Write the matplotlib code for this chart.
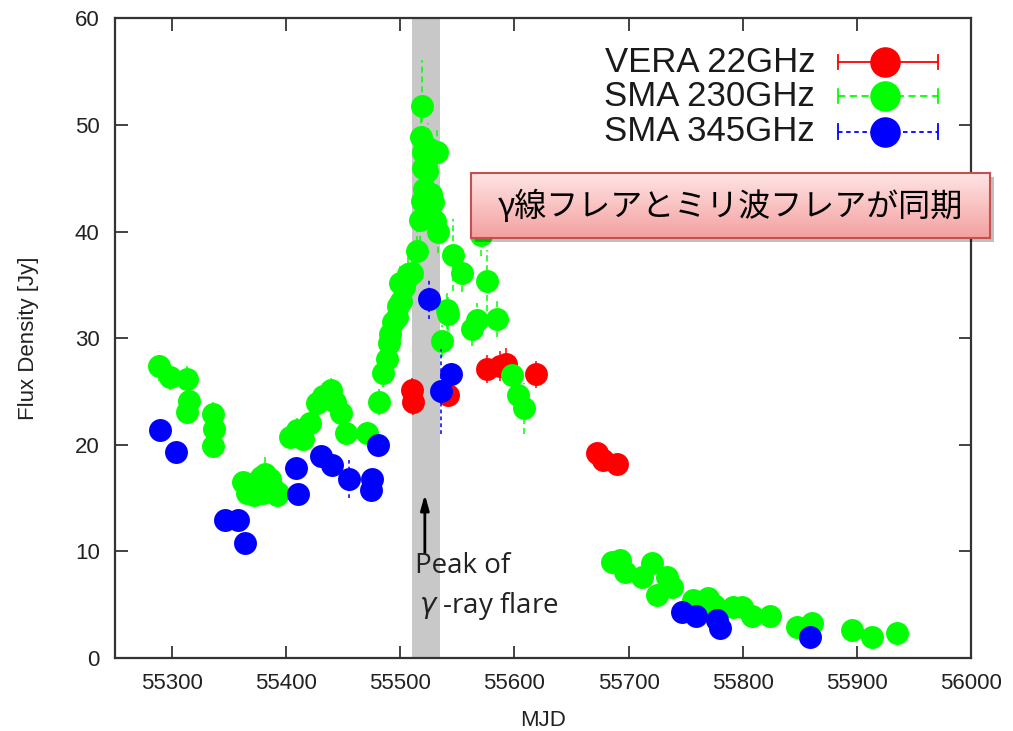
import numpy as np
import matplotlib
matplotlib.use('Agg')
import matplotlib.pyplot as plt
from matplotlib.patches import Rectangle

plt.rcParams['font.family'] = ['Liberation Sans', 'DejaVu Sans']
plt.rcParams['mathtext.fontset'] = 'dejavusans'

# --- data ---
vera_mjd = [55510, 55511.5, 55542, 55576, 55587, 55593, 55618.5, 55672, 55678, 55689.5]
vera_flux = [25.1, 24.0, 24.7, 27.1, 27.4, 27.6, 26.6, 19.2, 18.6, 18.2]
vera_err = [1.2, 1.2, 1.2, 1.3, 1.4, 1.5, 1.3, 0.6, 0.6, 0.6]

sma230_mjd = [55288.8, 55298.2, 55312.8, 55314.8, 55313.5, 55335.6, 55336.7, 55336.1,
              55361.9, 55366, 55368.3, 55372, 55375, 55378, 55379.7, 55381.4, 55383,
              55386, 55388, 55391.7, 55393,
              55403.3, 55409.2, 55415, 55420.9, 55426.7, 55432, 55439, 55443, 55447.8,
              55452.2, 55471.2, 55481.3, 55485.2, 55488, 55490, 55491, 55494, 55496.7,
              55498, 55499.7, 55501, 55503, 55505, 55507, 55510, 55514.8, 55517.2,
              55518.7, 55517.9, 55519.3, 55519.6, 55520, 55521, 55523.1, 55524, 55525,
              55527, 55528.9, 55530, 55531.8, 55533.2, 55536.2, 55540.6, 55542,
              55546.3, 55553.7, 55562.5, 55566.8, 55571, 55575.6, 55584.4, 55597.5,
              55603.3, 55608.3,
              55685.1, 55692.5, 55696.9, 55711.4, 55720.2, 55724.6, 55733.3, 55737.7,
              55756.7, 55762, 55769.9, 55775, 55791.7, 55799, 55807.8, 55823.9,
              55847.2, 55860.3, 55895.4, 55913, 55934.9]
sma230_flux = [27.4, 26.4, 26.2, 24.1, 23.1, 22.9, 21.5, 19.9,
               16.5, 15.5, 16.1, 15.3, 16.6, 17.0, 15.5, 17.3, 15.8,
               16.8, 16.0, 15.3, 15.5,
               20.7, 21.4, 20.5, 22.0, 23.9, 24.6, 25.1, 24.0, 23.0,
               21.1, 21.1, 24.0, 26.7, 28.0, 29.5, 30.4, 31.5, 32.0,
               33.0, 35.2, 33.5, 34.8, 35.5, 36.0, 36.1, 38.2, 41.1,
               42.9, 48.9, 51.8, 47.5, 46.0, 44.0, 45.7, 47.8, 41.5,
               43.5, 42.8, 41.0, 47.5, 40.0, 29.7, 32.6, 32.3,
               37.8, 36.1, 30.9, 31.7, 39.7, 35.4, 31.8, 26.5,
               24.7, 23.4,
               9.0, 9.2, 8.1, 7.6, 8.9, 5.9, 7.6, 6.7,
               5.4, 5.0, 5.6, 5.0, 4.8, 4.8, 3.9, 3.9,
               2.9, 3.3, 2.6, 2.0, 2.3]
sma230_err = [1.4, 1.3, 1.2, 1.2, 1.2, 1.1, 1.1, 1.0,
              0.8, 0.8, 0.8, 0.8, 0.8, 0.8, 0.8, 1.8, 0.8,
              0.8, 0.8, 0.8, 0.8,
              1.0, 1.1, 1.0, 1.1, 1.2, 1.2, 1.2, 1.2, 1.1,
              1.0, 1.0, 1.2, 1.3, 1.4, 1.5, 1.5, 1.6, 1.6,
              1.7, 1.8, 1.7, 1.7, 1.8, 1.8, 1.8, 2.0, 2.1,
              2.2, 2.5, 4.3, 2.4, 2.3, 2.2, 2.3, 2.4, 2.1,
              2.2, 2.2, 2.1, 2.3, 2.0, 1.5, 1.7, 1.6,
              3.4, 1.8, 1.6, 1.6, 2.0, 2.9, 1.7, 1.4,
              1.3, 2.4,
              0.4, 0.4, 0.4, 0.4, 0.4, 0.3, 0.4, 0.3,
              0.3, 0.3, 0.3, 0.3, 0.3, 0.3, 0.2, 0.2,
              0.2, 0.2, 0.2, 0.1, 0.1]

sma345_mjd = [55289.4, 55303.5, 55346.4, 55358, 55363.9, 55408.6, 55410.6, 55430.2,
              55439.8, 55455.3, 55474, 55474.8, 55480.7, 55525.4, 55535.6, 55544,
              55746.4, 55759.5, 55777.1, 55780.1, 55859]
sma345_flux = [21.4, 19.3, 12.9, 12.9, 10.8, 17.8, 15.4, 18.9,
               18.1, 16.8, 15.75, 16.8, 20.0, 33.7, 25.0, 26.6,
               4.3, 3.9, 3.6, 2.8, 2.0]
sma345_err = [1.0, 0.9, 0.6, 0.6, 0.5, 0.8, 0.7, 0.9,
              0.9, 1.8, 0.8, 0.8, 1.0, 1.9, 4.0, 1.3,
              0.3, 0.3, 0.3, 0.2, 0.2]

flare_span = (55510, 55535)
flare_peak = 55521.5

series = [
    ('VERA 22GHz', vera_mjd, vera_flux, vera_err, '#ff0000', '-'),
    ('SMA 230GHz', sma230_mjd, sma230_flux, sma230_err, '#00ff00', (0, (4, 2.5))),
    ('SMA 345GHz', sma345_mjd, sma345_flux, sma345_err, '#0000ff', (0, (2.5, 2))),
]

fig = plt.figure(figsize=(10.13, 7.31), dpi=100)
ax = fig.add_axes([0.1135, 0.0999, 0.8450, 0.8751])

ax.axvspan(*flare_span, color='#c8c8c8', lw=0, zorder=0)

for i, (lab, x, y, e, c, ls) in enumerate(series):
    eb = ax.errorbar(x, y, yerr=e, fmt='o', color=c, ms=16.5, mew=0, ecolor=c,
                     elinewidth=1.1, capsize=4.5, capthick=1.1, zorder=2 + i)
    eb[2][0].set_linestyle(ls)

ax.set_xlim(55250, 56000)
ax.set_ylim(0, 60)
ax.set_xticks(np.arange(55300, 56001, 100))
ax.set_yticks(np.arange(0, 61, 10))
ax.tick_params(direction='in', length=9, width=1.2, top=True, right=True,
               labelsize=16, colors='#222222', pad=11)
for s in ax.spines.values():
    s.set_linewidth(1.6)
    s.set_color('#333333')
ax.set_xlabel('MJD', fontsize=16, color='#222222', labelpad=11)
ax.set_ylabel('Flux Density [Jy]', fontsize=16, color='#222222', labelpad=26)

# manual gnuplot-style key
key_y = [0.931, 0.878, 0.823]
for (lab, x, y, e, c, ls), ky in zip(series, key_y):
    ax.text(0.818, ky, lab, transform=ax.transAxes, ha='right', va='center',
            fontsize=25, color='#1a1a1a')
    ax.plot([0.845, 0.961], [ky, ky], transform=ax.transAxes, color=c, lw=1.3, ls=ls,
            clip_on=False, zorder=6)
    for xc in (0.845, 0.961):
        ax.plot([xc, xc], [ky - 0.011, ky + 0.011], transform=ax.transAxes, color=c,
                lw=1.3, clip_on=False, zorder=6)
    ax.plot([0.9], [ky], 'o', transform=ax.transAxes, color=c, ms=22, mew=0,
            clip_on=False, zorder=7)

# flare annotation
ax.annotate('', xy=(flare_peak, 15.6), xytext=(flare_peak, 9.6),
            arrowprops=dict(arrowstyle='-|>,head_length=0.9,head_width=0.25',
                            color='black', lw=2), zorder=8)
ax.text(55513, 8.6, 'Peak of', fontsize=20, family=['Open Sans', 'DejaVu Sans'],
        color='#222222', ha='left', va='center', zorder=8)
ax.text(55516, 4.9, r'$\gamma$ -ray flare', fontsize=20, family=['Open Sans', 'DejaVu Sans'],
        color='#222222', ha='left', va='center', zorder=8)

# pink callout box
bx, by, bw, bh = 471 / 1013, 1 - 238 / 731, 519 / 1013, 65 / 731
fig.patches.append(Rectangle((bx + 4 / 1013, by - 4 / 731), bw, bh, transform=fig.transFigure,
                             facecolor='#000000', alpha=0.25, lw=0, zorder=9))
bax = fig.add_axes([bx, by, bw, bh], zorder=10)
grad = np.linspace(0, 1, 64).reshape(-1, 1)
top_c = np.array([255, 228, 228]) / 255
bot_c = np.array([244, 160, 160]) / 255
img = top_c + grad[:, :, None] * (bot_c - top_c)
bax.imshow(img, aspect='auto', extent=[0, 1, 0, 1])
bax.set_xticks([]); bax.set_yticks([])
for s in bax.spines.values():
    s.set_color('#c4504f')
    s.set_linewidth(1.5)
bax.text(0.5, 0.48, 'γ線フレアとミリ波フレアが同期', transform=bax.transAxes,
         ha='center', va='center', fontsize=23, color='black',
         family=['Noto Sans CJK JP', 'DejaVu Sans'])

fig.savefig('out.png', dpi=100, facecolor='white')
